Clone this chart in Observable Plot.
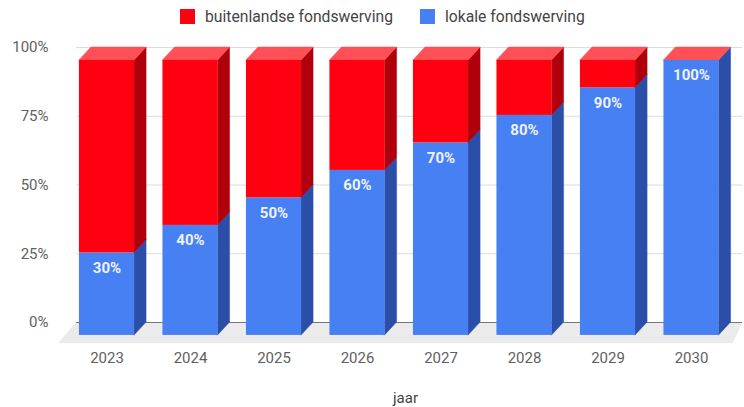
<!DOCTYPE html>
<html><head><meta charset="utf-8">
<script src="https://cdn.jsdelivr.net/npm/d3@7"></script>
<script src="https://cdn.jsdelivr.net/npm/@observablehq/plot@0.6"></script>
<style>
body{margin:0;background:#fff;font-family:Roboto,sans-serif;}
#wrap{width:744px;}
#legend{height:34px;position:relative;font-size:15.7px;color:#444;}
.item{position:absolute;top:8px;display:flex;align-items:center;gap:10px;white-space:nowrap;line-height:17px}
.sw{width:15px;height:15px;display:inline-block}
</style></head><body><div id="wrap"><div id="legend"></div><div id="chart"></div></div>
<script>
// ---- data ----
const years = ["2023", "2024", "2025", "2026", "2027", "2028", "2029", "2030"];
const lokale = [30, 40, 50, 60, 70, 80, 90, 100];
const buitenlandse = [70, 60, 50, 40, 30, 20, 10, 0];
const seriesNames = ["buitenlandse fondswerving", "lokale fondswerving"];
const yTicks = [0, 25, 50, 75, 100];
const axisTitle = "jaar";

// ---- styles ----
const colors = {
  front: ["#ff0010", "#4680f2"],
  side: ["#b0000c", "#2b4fa9"],
  top: ["#ff4f57", "#6d9bf6"]
};
// 3D depth (data units) and bar half width
const HW = 0.33, DX = 0.144, DY = 4.7;

// legend
const legend = document.getElementById("legend");
const legendLeft = [180, 420];
seriesNames.forEach((name, s) => {
  const it = document.createElement("div");
  it.className = "item";
  it.style.left = legendLeft[s] + "px";
  it.innerHTML = `<span class="sw" style="background:${colors.front[s]}"></span><span>${name}</span>`;
  legend.appendChild(it);
});

// stacked segments: s=1 lokale (bottom), s=0 buitenlandse (top)
const segs = [];
years.forEach((y, i) => {
  segs.push({i, s: 1, y0: 0, y1: lokale[i]});
  segs.push({i, s: 0, y0: lokale[i], y1: lokale[i] + buitenlandse[i]});
});
const visible = segs.filter(d => d.y1 > d.y0);

const sidePts = [];
visible.forEach((d, k) => {
  sidePts.push({k, s: d.s, x: d.i + HW, lo: d.y0 - DY, hi: d.y1 - DY});
  sidePts.push({k, s: d.s, x: d.i + HW + DX, lo: d.y0, hi: d.y1});
});
const topPts = [];
years.forEach((y, i) => {
  const T = lokale[i] + buitenlandse[i];
  topPts.push({i, y: T - DY, x1: i - HW, x2: i + HW});
  topPts.push({i, y: T, x1: i - HW + DX, x2: i + HW + DX});
});
const floorPts = [
  {y: 0, x1: -0.365, x2: 7.62},
  {y: -7.6, x1: -0.58, x2: 7.5}
];

const chart = Plot.plot({
  width: 744,
  height: 373,
  marginLeft: 76,
  marginRight: 2,
  marginTop: 0,
  marginBottom: 85,
  style: {fontFamily: "Roboto, sans-serif", color: "#5f5f5f", overflow: "visible"},
  x: {type: "linear", domain: [0, years.length - 1], range: [106.5, 691]},
  y: {domain: [0, 100], range: [288, 13]},
  color: {type: "identity"},
  marks: [
    Plot.areaX(floorPts, {y: "y", x1: "x1", x2: "x2", fill: "#ebebeb"}),
    Plot.ruleY(yTicks.filter(v => v > 0), {stroke: "#dcdcdc"}),
    Plot.ruleY([0], {stroke: "#777"}),
    Plot.axisY(yTicks, {tickSize: 0, tickPadding: 28, tickFormat: d => d + "%", fontSize: 15, label: null}),
    Plot.axisX(d3.range(years.length), {tickSize: 0, tickPadding: 30, tickFormat: i => years[i], fontSize: 15, label: null}),
    Plot.areaY(sidePts, {x: "x", y1: "lo", y2: "hi", z: "k", fill: d => colors.side[d.s], stroke: d => colors.side[d.s], strokeWidth: 0.5}),
    Plot.areaX(topPts, {y: "y", x1: "x1", x2: "x2", z: "i", fill: colors.top[0], stroke: colors.top[0], strokeWidth: 0.5}),
    Plot.rect(visible, {x1: d => d.i - HW, x2: d => d.i + HW, y1: d => d.y0 - DY, y2: d => d.y1 - DY, fill: d => colors.front[d.s]}),
    Plot.text(years.map((y, i) => i).filter(i => lokale[i] > 0), {x: i => i, y: i => lokale[i] - DY, dy: 15, text: i => lokale[i] + "%", fill: "#eef2fd", fontWeight: "bold", fontSize: 15}),
    Plot.text([axisTitle], {frameAnchor: "bottom", dy: 80, dx: -4, fontSize: 15, fill: "#444"})
  ]
});
document.getElementById("chart").appendChild(chart);
</script></body></html>
